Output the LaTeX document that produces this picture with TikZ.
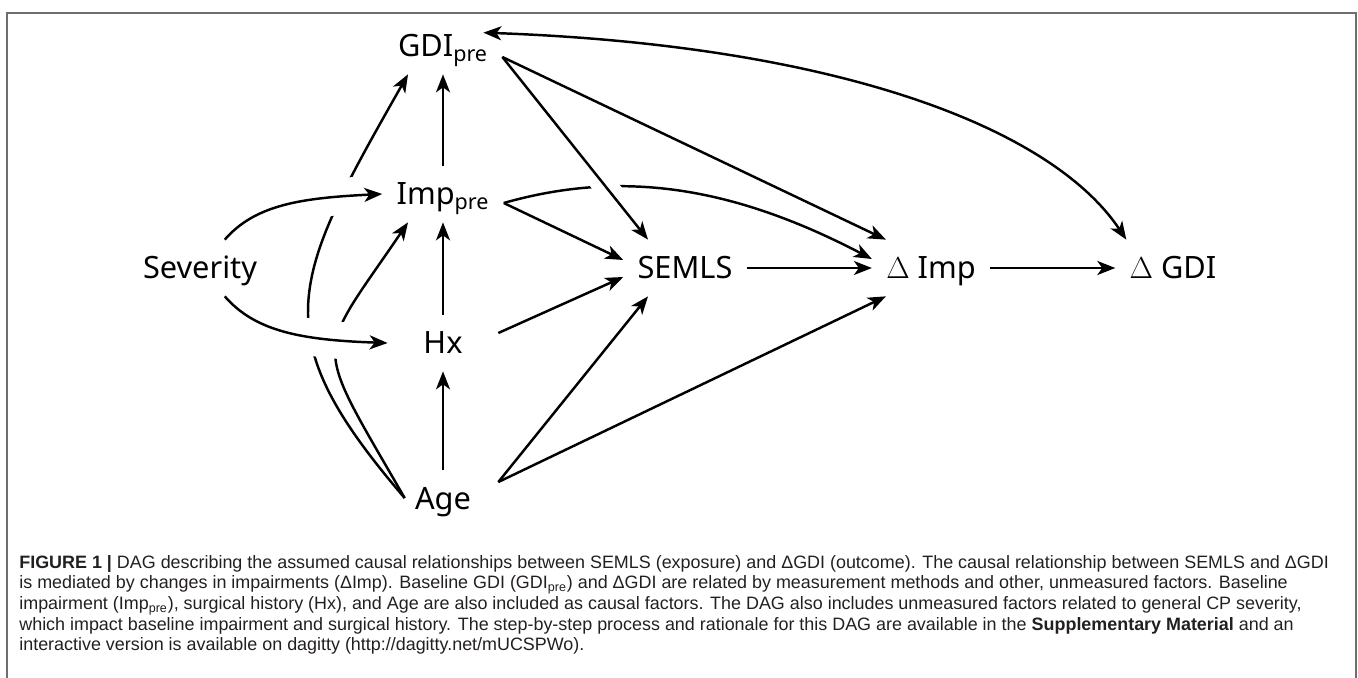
\documentclass[tikz,border=0pt]{standalone}
\usepackage{fontspec}
\setmainfont{Liberation Sans}
\newfontfamily\labelfont{Noto Sans}
\usetikzlibrary{arrows.meta}
\definecolor{framegray}{RGB}{110,110,110}
\definecolor{captiontext}{RGB}{35,31,32}

\begin{document}
\begin{tikzpicture}[
    x=0.02cm, y=-0.02cm,
    >={Stealth[length=0.36cm, width=0.28cm, inset=0.1cm]},
    var/.style={font=\labelfont\fontsize{17.5}{21}\selectfont,
                inner xsep=0.28cm, inner ysep=0.34cm,
                text height=0.44cm, text depth=0cm, anchor=base},
    col/.style={var, minimum width=2.2cm},
    edge/.style={->, line width=1.4pt},
    halo/.style={preaction={draw=white, line width=#1, -,
                 shorten <=0.1cm, shorten >=0.1cm}},
    caption/.style={align=left, inner sep=0pt, text=captiontext,
                    font=\fontsize{10.2}{11.7}\selectfont}
  ]
  \useasboundingbox (0,0) rectangle (1358,678);

  % frame round the figure
  \draw[framegray, line width=0.035cm] (7,678) -- (7,13) -- (1356,13) -- (1356,678);

  % variables
  \node[var] (severity) at (200,279) {Severity};
  \node[col] (gdi)  at (443,57)  {GDI\textsubscript{pre}};
  \node[col] (imp)  at (443,205) {Imp\textsubscript{pre}};
  \node[col] (hx)   at (443,354) {Hx};
  \node[col] (age)  at (443,509) {Age};
  \node[var] (semls) at (685,279) {SEMLS};
  \node[var] (dimp)  at (931,279) {$\Delta$ Imp};
  \node[var] (dgdi)  at (1173,279) {$\Delta$ GDI};

  % edges that pass under others
  \draw[edge] ([xshift=0.34cm]age.west) .. controls (263,333) and (290,282) .. ([xshift=-0.7cm]gdi.south);
  \draw[edge] ([xshift=0.34cm]age.west) .. controls (311,335) and (314,361) .. ([xshift=-0.7cm]imp.south);
  \draw[edge] ([yshift=-0.18cm]imp.east) .. controls (620,170) and (730,185) .. ([yshift=0.18cm]dimp.west);

  % edges with a white halo
  \draw[edge, halo=0.74cm] (severity) .. controls (255,205) and (300,198) .. (imp.west);
  \draw[edge, halo=0.74cm] (severity) .. controls (255,331) and (300,340) .. (hx.west);
  \draw[edge, halo=0.48cm] ([yshift=-0.22cm]gdi.east) -- ([xshift=-0.74cm]semls.north);

  % remaining edges
  \draw[edge] (age) -- (hx);
  \draw[edge] (hx) -- (imp);
  \draw[edge] (imp) -- (gdi);
  \draw[edge] ([yshift=-0.22cm]gdi.east) -- ([xshift=0.28cm]dimp.north west);
  \draw[edge] ([yshift=-0.18cm]imp.east) -- ([yshift=0.16cm]semls.west);
  \draw[edge] ([yshift=0.2cm]hx.east) -- ([yshift=-0.18cm]semls.west);
  \draw[edge] ([yshift=0.32cm]age.east) -- ([xshift=-0.74cm]semls.south);
  \draw[edge] ([yshift=0.32cm]age.east) -- ([xshift=0.28cm]dimp.south west);
  \draw[edge] (semls) -- (dimp);
  \draw[edge] (dimp) -- (dgdi);
  \draw[edge, <->] ([xshift=-0.38cm, yshift=-0.3cm]gdi.north east) .. controls (830,45) and (1050,125) .. ([xshift=0.22cm]dgdi.north west);

  % caption
  \node[caption, anchor=north west] (caption) at (19,555) {%
    \textbf{FIGURE 1 |} DAG describing the assumed causal relationships between SEMLS (exposure) and ΔGDI (outcome). The causal relationship between SEMLS and ΔGDI\\
    is mediated by changes in impairments (ΔImp). Baseline GDI (GDI\textsubscript{pre}) and ΔGDI are related by measurement methods and other, unmeasured factors. Baseline\\
    impairment (Imp\textsubscript{pre}), surgical history (Hx), and Age are also included as causal factors. The DAG also includes unmeasured factors related to general CP severity,\\
    which impact baseline impairment and surgical history. The step-by-step process and rationale for this DAG are available in the \textbf{Supplementary Material} and an\\
    interactive version is available on dagitty (http://dagitty.net/mUCSPWo).};
\end{tikzpicture}
\end{document}
